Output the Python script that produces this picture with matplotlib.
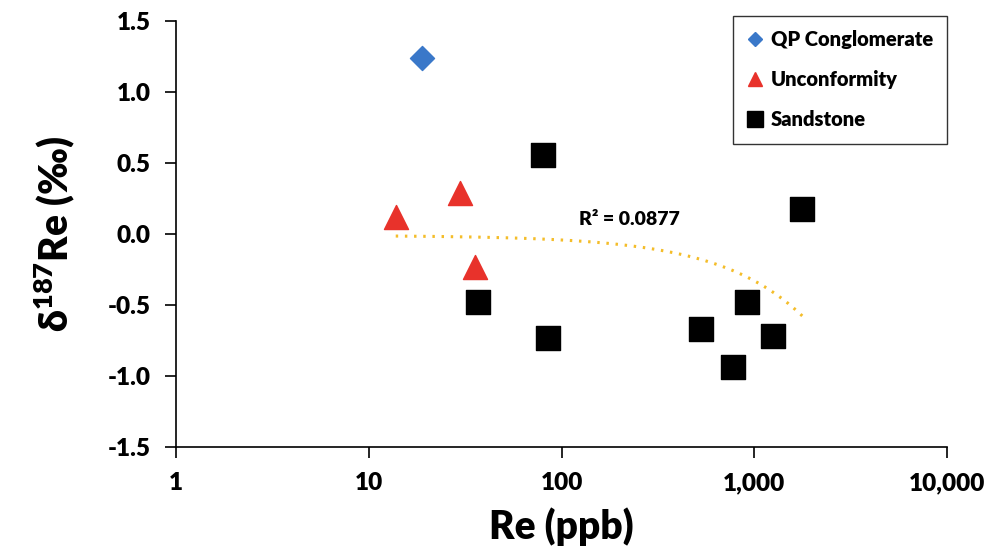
import matplotlib
matplotlib.use("Agg")
import matplotlib.pyplot as plt
import numpy as np
from matplotlib.lines import Line2D

plt.rcParams['font.family'] = ['Lato', 'DejaVu Sans']
plt.rcParams['font.weight'] = 'heavy'
plt.rcParams['mathtext.fontset'] = 'custom'
plt.rcParams['mathtext.rm'] = 'Lato:heavy'
plt.rcParams['mathtext.bf'] = 'Lato:heavy'

# data
qp_re = [18.8]
qp_d = [1.24]
unc_re = [13.8, 29.7, 35.4]
unc_d = [0.12, 0.29, -0.23]
sand_re = [36.7, 79.8, 84.6, 531, 778, 920, 1253, 1774]
sand_d = [-0.48, 0.56, -0.73, -0.67, -0.94, -0.48, -0.72, 0.18]

# linear trendline (Excel style), drawn on the log axis
trend_slope = -0.00032
trend_intercept = -0.0095
trend_range = [13.8, 1774]

W = 'heavy'

fig = plt.figure(figsize=(9.97, 5.58), dpi=100)
ax = fig.add_axes([0.1765, 0.199, 0.7735, 0.763])

ax.scatter(qp_re, qp_d, marker='D', s=150, color='#3a78c9', zorder=3)
ax.scatter(unc_re, unc_d, marker='^', s=300, color='#e8322b', zorder=3)
ax.scatter(sand_re, sand_d, marker='s', s=300, color='black', zorder=3)

xt = np.linspace(trend_range[0], trend_range[1], 400)
ax.plot(xt, trend_intercept + trend_slope * xt, linestyle=(0, (0.8, 2.2)),
        color='#f4bd2a', lw=2.2, zorder=2)
ax.text(225, 0.1, 'R² = 0.0877', fontsize=14, fontweight=W, ha='center', va='center')

ax.set_xscale('log')
ax.set_xlim(1, 10000)
ax.set_ylim(-1.5, 1.5)
ax.set_xticks([1, 10, 100, 1000, 10000])
ax.set_xticklabels(['1', '10', '100', '1,000', '10,000'])
ax.minorticks_off()
ax.set_yticks([-1.5, -1.0, -0.5, 0.0, 0.5, 1.0, 1.5])
ax.set_yticklabels(['-1.5', '-1.0', '-0.5', '0.0', '0.5', '1.0', '1.5'])
ax.tick_params(labelsize=17.5, length=8, width=1.2, pad=10)
for lab in ax.get_xticklabels() + ax.get_yticklabels():
    lab.set_fontweight(W)

for s in ['top', 'right']:
    ax.spines[s].set_visible(False)
for s in ['left', 'bottom']:
    ax.spines[s].set_linewidth(1.2)

ax.set_xlabel('Re (ppb)', fontsize=28, fontweight=W, labelpad=10)
ax.set_ylabel('δ$^{187}$Re (‰)', fontsize=28, fontweight=W, labelpad=22)

handles = [
    Line2D([], [], marker='D', color='#3a78c9', ls='', markersize=7),
    Line2D([], [], marker='^', color='#e8322b', ls='', markersize=10),
    Line2D([], [], marker='s', color='black', ls='', markersize=11),
]
leg = ax.legend(handles, ['QP Conglomerate', 'Unconformity', 'Sandstone'],
                loc='upper right', bbox_to_anchor=(1.0, 1.012), fontsize=14.5,
                frameon=True, fancybox=False, edgecolor='black',
                handlelength=0.8, handletextpad=0.4, labelspacing=1.05,
                borderpad=0.7, borderaxespad=0)
leg.get_frame().set_linewidth(1.0)
for t in leg.get_texts():
    t.set_fontweight(W)

fig.savefig('out.png', dpi=100)
